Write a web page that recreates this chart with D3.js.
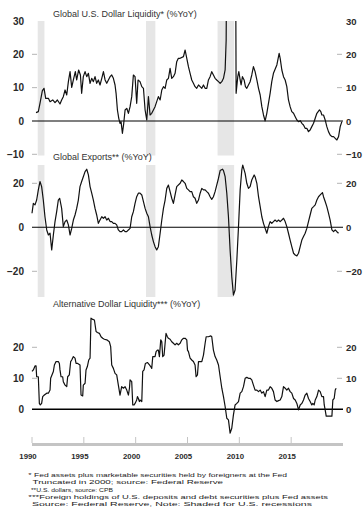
<!DOCTYPE html>
<html><head><meta charset="utf-8">
<script src="https://cdn.jsdelivr.net/npm/d3@7"></script>
<style>html,body{margin:0;padding:0;background:#fff}svg{display:block}text{font-family:"Liberation Sans",Arial,sans-serif}</style>
</head><body>
<script>
// ---------- DATA ----------
const recessions = [[1990.55, 1991.2], [2001.0, 2001.9], [2007.9, 2009.5]];
const xTickYears = [1990, 1995, 2000, 2005, 2010, 2015];

const p1Years = [1990.39,1990.61,1990.77,1991.00,1991.16,1991.32,1991.58,1991.74,1992.00,1992.22,1992.45,1992.70,1992.86,1993.02,1993.19,1993.35,1993.51,1993.67,1993.83,1993.99,1994.18,1994.31,1994.50,1994.67,1994.79,1994.95,1995.12,1995.28,1995.44,1995.60,1995.76,1995.92,1996.08,1996.24,1996.40,1996.56,1996.73,1996.89,1997.05,1997.21,1997.37,1997.53,1997.69,1997.85,1998.01,1998.11,1998.24,1998.37,1998.49,1998.59,1998.72,1998.85,1998.98,1999.14,1999.30,1999.46,1999.62,1999.78,1999.94,2000.10,2000.23,2000.42,2000.59,2000.75,2000.91,2001.07,2001.23,2001.39,2001.55,2001.71,2001.87,2002.03,2002.19,2002.36,2002.52,2002.68,2002.84,2003.00,2003.16,2003.32,2003.48,2003.64,2003.80,2003.96,2004.12,2004.29,2004.61,2004.77,2004.93,2005.09,2005.25,2005.41,2005.57,2005.73,2005.89,2006.06,2006.22,2006.38,2006.54,2006.70,2006.86,2007.02,2007.18,2007.34,2007.50,2007.66,2007.82,2007.99,2008.15,2008.31,2008.47,2008.63,2008.73,2008.79,2009.63,2009.69,2009.85,2009.95,2010.08,2010.17,2010.30,2010.46,2010.59,2010.72,2010.88,2011.04,2011.20,2011.36,2011.52,2011.69,2011.85,2012.01,2012.17,2012.33,2012.49,2012.65,2012.81,2012.97,2013.13,2013.29,2013.62,2013.84,2013.94,2014.10,2014.26,2014.42,2014.58,2014.74,2014.90,2015.06,2015.23,2015.39,2015.55,2015.71,2015.87,2016.03,2016.19,2016.35,2016.51,2016.67,2016.83,2016.99,2017.16,2017.32,2017.48,2017.73,2017.86,2017.96,2018.12,2018.28,2018.44,2018.60,2018.76,2018.93,2019.09,2019.25,2019.41,2019.57,2019.73,2019.89];
const p1Values = [2.5,2.8,5.3,9.1,9.8,6.8,6.8,5.8,6.3,5.5,6.3,5.1,6.3,7.3,9.3,7.8,11.8,14.8,10.1,12.3,14.8,12.3,15.3,13.8,8.3,13.3,14.8,13.3,14.3,11.3,12.8,11.8,13.3,11.3,12.3,10.8,12.8,14.8,12.3,11.3,12.3,13.3,13.8,12.8,10.8,8.3,3.3,0.8,-0.7,-0.2,-3.7,-0.7,3.3,3.8,2.3,4.3,7.3,13.8,13.3,5.3,12.3,11.8,10.3,9.8,3.3,0.3,7.3,1.8,2.3,3.3,4.3,5.8,7.3,6.3,9.3,10.3,9.8,12.3,12.8,15.8,12.8,13.3,14.3,17.8,18.8,18.8,19.3,21.3,18.8,16.3,14.3,12.3,11.3,10.3,9.8,10.8,10.3,9.8,10.8,9.8,9.8,12.3,13.3,14.8,13.8,12.8,12.3,11.8,11.3,11.8,12.8,15.3,24.3,60,60,8.3,13.3,14.8,12.3,10.8,13.3,12.3,10.3,9.8,10.8,11.8,13.8,16.3,14.8,12.3,9.8,7.8,4.3,1.8,0,2.3,5.3,8.3,11.8,14.3,16.8,20.3,18.8,15.3,13.3,12.3,10.3,6.3,4.3,2.8,2.3,1.3,0.3,-0.2,0.1,-0.7,-1.2,-2.2,-2.2,-3.2,-2.7,-1.7,-0.7,0.8,2.3,3.3,2.8,1.8,1.8,0.3,-1.7,-3.2,-4.2,-4.7,-4.7,-5.2,-5.7,-4.7,-1.7,-0.2];

const p2Years = [1990.0,1990.13,1990.29,1990.45,1990.61,1990.77,1990.93,1991.09,1991.25,1991.42,1991.58,1991.74,1991.90,1992.06,1992.22,1992.38,1992.54,1992.67,1992.86,1993.02,1993.19,1993.35,1993.51,1993.67,1993.83,1993.99,1994.15,1994.31,1994.47,1994.63,1994.79,1994.95,1995.12,1995.28,1995.44,1995.60,1995.76,1995.92,1996.08,1996.24,1996.40,1996.56,1996.73,1996.89,1997.05,1997.21,1997.37,1997.53,1997.69,1997.85,1998.01,1998.17,1998.33,1998.49,1998.65,1998.82,1998.98,1999.14,1999.30,1999.46,1999.62,1999.78,1999.94,2000.10,2000.26,2000.42,2000.59,2000.75,2000.91,2001.07,2001.23,2001.39,2001.55,2001.71,2001.87,2002.03,2002.19,2002.36,2002.52,2002.68,2002.84,2003.00,2003.16,2003.32,2003.48,2003.64,2003.80,2003.96,2004.29,2004.45,2004.61,2004.77,2004.93,2005.09,2005.25,2005.41,2005.57,2005.73,2005.89,2006.06,2006.22,2006.38,2006.54,2006.70,2006.86,2007.02,2007.18,2007.34,2007.50,2007.66,2007.82,2007.99,2008.15,2008.37,2008.47,2008.63,2008.79,2008.95,2009.11,2009.27,2009.43,2009.59,2009.76,2009.92,2010.08,2010.24,2010.33,2010.56,2010.72,2010.88,2011.04,2011.20,2011.43,2011.52,2011.69,2011.85,2012.01,2012.17,2012.33,2012.49,2012.65,2012.81,2012.97,2013.13,2013.29,2013.45,2013.62,2013.78,2013.94,2014.10,2014.26,2014.42,2014.58,2014.74,2014.90,2015.06,2015.23,2015.39,2015.55,2015.71,2015.87,2016.03,2016.19,2016.35,2016.51,2016.67,2016.83,2016.99,2017.16,2017.32,2017.48,2017.64,2017.80,2018.02,2018.12,2018.28,2018.44,2018.60,2018.76,2018.93,2019.09,2019.25,2019.41,2019.57];
const p2Values = [6.4,10.9,10.2,12.4,17.0,20.8,18.5,12.4,4.8,-1.2,-3.5,-2.7,-10.3,-3.5,2.6,7.1,12.4,13.2,8.6,0.3,2.6,3.3,1.1,-3.5,-0.5,3.3,5.6,8.6,12.4,18.5,20.8,23.0,25.3,26.4,23.8,18.5,15.5,12.4,8.6,5.6,1.8,3.3,4.8,4.1,4.8,3.3,4.1,2.6,2.6,1.8,1.8,1.1,-1.2,-2.0,-2.0,-1.2,-2.0,-2.0,-1.2,-0.5,4.8,7.1,10.9,13.9,15.5,15.5,14.7,11.7,8.6,6.4,4.8,0.3,-3.5,-6.5,-8.8,-10.3,-8.8,-2.7,3.3,8.6,12.4,17.7,19.2,16.2,13.2,10.9,14.7,18.5,20.0,21.5,20.8,20.0,17.7,17.0,16.2,16.2,13.9,13.2,10.9,12.4,15.5,17.7,17.0,17.0,16.2,15.5,13.9,12.7,13.9,16.2,19.2,22.3,25.8,26.4,25.8,23.0,15.5,4.8,-10.3,-22.4,-30.8,-28.5,-14.8,0.3,17.0,26.1,28.3,24.5,20.0,17.7,18.5,21.5,23.8,23.0,20.0,13.9,9.4,4.8,1.8,-0.5,-2.7,0.3,2.6,1.8,2.6,3.3,2.6,3.3,2.6,3.3,4.1,2.6,0.3,-2.7,-5.8,-8.8,-11.8,-12.6,-13.0,-11.8,-8.8,-5.8,-4.2,-2.7,-0.5,2.6,5.6,8.6,9.4,10.2,12.4,13.9,14.7,15.8,13.9,11.7,9.4,6.4,3.3,-1.2,-2.0,-1.2,-2.0,-2.7];

const p3Years = [1990.0,1990.13,1990.29,1990.39,1990.45,1990.61,1990.71,1990.80,1990.93,1991.03,1991.19,1991.42,1991.58,1991.74,1991.80,1992.06,1992.16,1992.32,1992.54,1992.64,1992.70,1992.80,1992.96,1993.02,1993.19,1993.35,1993.44,1993.60,1993.73,1993.83,1993.99,1994.15,1994.25,1994.41,1994.63,1994.73,1994.89,1994.95,1995.12,1995.21,1995.34,1995.47,1995.60,1995.69,1995.86,1996.02,1996.18,1996.31,1996.50,1996.66,1996.82,1996.98,1997.21,1997.46,1997.59,1997.69,1997.85,1998.01,1998.17,1998.33,1998.49,1998.65,1998.82,1998.98,1999.14,1999.30,1999.40,1999.46,1999.62,1999.72,1999.85,1999.94,2000.10,2000.17,2000.26,2000.36,2000.42,2000.59,2000.68,2000.81,2000.94,2001.13,2001.33,2001.45,2001.55,2001.65,2001.87,2001.97,2002.10,2002.19,2002.29,2002.42,2002.52,2002.61,2002.74,2002.84,2002.93,2003.06,2003.16,2003.32,2003.48,2003.64,2003.80,2003.96,2004.12,2004.29,2004.45,2004.61,2004.77,2004.93,2005.00,2005.09,2005.25,2005.41,2005.57,2005.73,2005.83,2005.96,2006.06,2006.22,2006.38,2006.54,2006.70,2006.80,2007.02,2007.25,2007.34,2007.50,2007.66,2007.82,2007.99,2008.15,2008.31,2008.47,2008.63,2008.79,2008.95,2009.11,2009.27,2009.43,2009.59,2009.76,2009.92,2010.08,2010.24,2010.40,2010.56,2010.72,2010.88,2011.04,2011.20,2011.36,2011.52,2011.69,2011.85,2012.01,2012.17,2012.33,2012.49,2012.65,2012.81,2012.97,2013.13,2013.29,2013.45,2013.62,2013.78,2013.94,2014.10,2014.26,2014.42,2014.58,2014.74,2014.90,2015.06,2015.23,2015.39,2015.55,2015.71,2015.87,2016.03,2016.19,2016.35,2016.51,2016.67,2016.83,2016.99,2017.09,2017.22,2017.32,2017.48,2017.64,2017.80,2017.96,2018.12,2018.19,2018.28,2018.38,2018.60,2018.76,2018.93,2019.02,2019.15,2019.25,2019.34];
const p3Values = [12.2,12.7,14.0,14.0,10.5,10.5,1.9,1.4,1.9,4.1,4.6,5.2,5.2,6.2,10.0,12.2,14.3,15.4,15.4,14.8,12.7,10.5,10.5,8.9,7.8,7.3,10.5,11.1,15.4,15.9,17.0,16.5,14.8,14.8,14.3,4.6,4.3,7.8,8.4,12.7,13.8,15.9,16.5,29.4,29.0,28.8,25.1,24.8,24.5,23.4,22.9,22.6,22.4,21.8,20.2,14.3,13.2,11.6,11.1,7.8,4.6,7.3,6.8,7.3,6.2,4.6,6.8,9.5,8.9,1.4,1.4,1.9,3.0,4.1,3.5,2.5,3.0,2.5,12.2,12.7,14.8,15.1,14.3,13.8,13.2,17.0,17.0,18.6,19.1,19.1,17.0,22.4,21.8,17.0,17.5,21.3,24.5,23.4,22.9,22.6,21.8,21.3,20.8,21.3,20.8,21.3,22.4,22.9,22.9,22.4,19.1,18.6,16.5,15.9,15.4,14.3,10.5,11.1,15.4,15.4,15.4,17.5,21.3,23.4,23.4,23.7,23.4,19.1,17.0,15.9,14.3,10.5,6.8,4.1,0.9,-2.9,-3.4,-7.7,-6.1,-1.8,1.4,1.9,2.5,5.2,5.7,7.3,10.0,10.3,10.0,10.0,9.5,7.8,6.2,6.2,5.7,6.2,5.2,5.7,4.1,6.2,6.2,7.3,6.8,5.7,3.0,2.5,2.8,3.0,4.1,7.3,6.8,6.2,6.8,5.7,5.2,3.5,3.0,1.9,-0.2,1.4,1.9,3.0,4.6,5.2,3.5,2.5,1.4,1.9,1.4,3.0,4.1,6.2,5.7,4.1,4.1,1.4,-0.2,-2.2,-2.2,-2.2,-2.2,3.0,3.5,6.2,6.8];

const p1Ticks = [30, 20, 10, 0, -10];
const p2Ticks = [20, 0, -20];
const p3Ticks = [20, 10, 0];

const titles = ["Global U.S. Dollar Liquidity* (%YoY)", "Global Exports** (%YoY)", "Alternative Dollar Liquidity*** (%YoY)"];
const footnotes = [
  "* Fed assets plus marketable securities held by foreigners at the Fed",
  " Truncated in 2000; source: Federal Reserve",
  " **U.S. dollars, source: CPB",
  "***Foreign holdings of U.S. deposits and debt securities plus Fed assets",
  " Source: Federal Reserve, Note: Shaded for U.S. recessions"
];

// ---------- DRAW ----------
const W = 363, H = 517;
const svg = d3.select("body").append("svg").attr("width", W).attr("height", H);
const x = d3.scaleLinear().domain([1990, 2020]).range([32, 343]);

const panels = [
  {years: p1Years, values: p1Values, ticks: p1Ticks, y: d3.scaleLinear().domain([-10, 30]).range([154.3, 21]),
   band: [21, 155.5], clip: [21, 160], title: titles[0], titleY: 16.5, zeroW: 1.1},
  {years: p2Years, values: p2Values, ticks: p2Ticks, y: d3.scaleLinear().domain([-20, 20]).range([271.3, 183.3]),
   band: [165, 297], clip: [160, 300], title: titles[1], titleY: 160, zeroW: 1.1},
  {years: p3Years, values: p3Values, ticks: p3Ticks, y: d3.scaleLinear().domain([0, 20]).range([409.3, 347.3]),
   band: null, clip: [300, 440], title: titles[2], titleY: 306.5, zeroW: 1.6}
];

panels.forEach((p, i) => {
  const g = svg.append("g");
  if (p.band) {
    g.selectAll("rect.rec").data(recessions).enter().append("rect")
      .attr("x", d => x(d[0])).attr("width", d => x(d[1]) - x(d[0]))
      .attr("y", p.band[0]).attr("height", p.band[1] - p.band[0])
      .attr("fill", "#e6e6e6");
  }
  g.append("text").attr("x", 53).attr("y", p.titleY).attr("font-size", 9).attr("fill", "#333").text(p.title);
  const yl = d3.axisLeft(p.y).tickValues(p.ticks).tickSize(0).tickPadding(0).tickFormat(d3.format("d"));
  const gl = g.append("g").attr("transform", "translate(24,0)").call(yl);
  gl.select(".domain").remove();
  gl.selectAll("text").attr("font-size", 10).attr("font-weight", "bold").attr("fill", "#2a2a2a").attr("font-family", "Liberation Sans, Arial, sans-serif");
  const yr = d3.axisRight(p.y).tickValues(p.ticks).tickSize(0).tickPadding(0).tickFormat(d3.format("d"));
  const gr = g.append("g").attr("transform", "translate(346,0)").call(yr);
  gr.select(".domain").remove();
  gr.selectAll("text").attr("font-size", 9.5).attr("font-weight", "bold").attr("fill", "#2a2a2a").attr("font-family", "Liberation Sans, Arial, sans-serif");
  const tv = p.ticks.filter(t => t !== 0 && t !== 30);
  g.selectAll("line.tl").data(tv).enter().append("line")
    .attr("x1", 32).attr("x2", 37).attr("y1", d => p.y(d)).attr("y2", d => p.y(d))
    .attr("stroke", "#b5b5b5").attr("stroke-width", 1);
  g.selectAll("line.tr").data(tv).enter().append("line")
    .attr("x1", 337).attr("x2", 342).attr("y1", d => p.y(d)).attr("y2", d => p.y(d))
    .attr("stroke", "#b5b5b5").attr("stroke-width", 1);
  g.append("line").attr("x1", 32).attr("x2", 343).attr("y1", p.y(0)).attr("y2", p.y(0))
    .attr("stroke", "#000").attr("stroke-width", p.zeroW);
  const cid = "clip" + i;
  svg.append("clipPath").attr("id", cid).append("rect")
    .attr("x", 0).attr("y", p.clip[0]).attr("width", W).attr("height", p.clip[1] - p.clip[0]);
  const data = p.years.map((yv, k) => [yv, p.values[k]]);
  const line = d3.line().x(d => x(d[0])).y(d => p.y(d[1]));
  g.append("path").datum(data).attr("d", line).attr("fill", "none")
    .attr("stroke", "#111").attr("stroke-width", 1.2).attr("stroke-linejoin", "round")
    .attr("clip-path", `url(#${cid})`);
});

// x axis
const ax = svg.append("g");
ax.append("line").attr("x1", 32).attr("x2", 343).attr("y1", 444.5).attr("y2", 444.5)
  .attr("stroke", "#c4c4c4").attr("stroke-width", 3);
ax.selectAll("line.xt").data(xTickYears).enter().append("line")
  .attr("x1", d => x(d)).attr("x2", d => x(d)).attr("y1", 437).attr("y2", 443)
  .attr("stroke", "#c4c4c4").attr("stroke-width", 1);
ax.selectAll("text.xl").data(xTickYears).enter().append("text")
  .attr("x", d => x(d) - 4).attr("y", 459).attr("text-anchor", "middle")
  .attr("font-size", 7.8).attr("font-weight", "bold").attr("fill", "#2a2a2a").text(d => d);

// footnotes
const fx = [28.3, 30, 29, 28.3, 29];
const fEnd = [287, 223, 113, 328, 312];
const fy = [477, 484.3, 491.6, 498.9, 506.2];
svg.selectAll("text.fn").data(footnotes).enter().append("text")
  .attr("x", (d, i) => fx[i]).attr("y", (d, i) => fy[i])
  .attr("font-size", 6.2).attr("fill", "#222").attr("xml:space", "preserve").style("white-space", "pre")
  .attr("textLength", (d, i) => fEnd[i] - fx[i]).attr("lengthAdjust", "spacingAndGlyphs")
  .text(d => d);
</script>
</body></html>
